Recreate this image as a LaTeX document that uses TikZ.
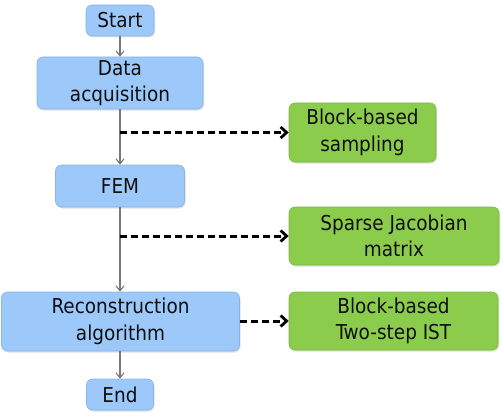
\documentclass[tikz,border=0pt]{standalone}
\usepackage{fontspec}
\setmainfont{DejaVu Sans Condensed}
\usetikzlibrary{arrows.meta,shadows}
\definecolor{bluefill}{RGB}{157,200,250}
\definecolor{blueedge}{RGB}{135,180,235}
\definecolor{greenfill}{RGB}{140,204,76}
\definecolor{greenedge}{RGB}{125,185,65}
\definecolor{txt}{RGB}{15,15,15}
\definecolor{flow}{RGB}{120,120,120}
\tikzset{
  boxbase/.style={line width=0.6pt, rounded corners=6pt, inner sep=0pt, align=center,
    font=\fontsize{20.5}{26.5}\selectfont, text=txt,
    drop shadow={shadow xshift=1pt, shadow yshift=-1.5pt, opacity=0.25}},
  bluebox/.style={boxbase, draw=blueedge, fill=bluefill},
  greenbox/.style={boxbase, draw=greenedge, fill=greenfill},
  flowline/.style={draw=flow, line width=1.1pt, -{Straight Barb[length=5pt,width=8pt]}},
  dashline/.style={draw=black, line width=3pt, dash pattern=on 7pt off 4pt, -{Straight Barb[length=6pt,width=11pt,line width=2.8pt]}}
}
\begin{document}
\begin{tikzpicture}[x=1pt,y=-1pt]
\useasboundingbox (0,0) rectangle (501,412);
\node[bluebox, minimum width=68pt, minimum height=31pt] (start) at (120,20.5) {Start};
\node[bluebox, minimum width=166pt, minimum height=52pt] (data) at (120,83) {Data\\acquisition};
\node[bluebox, minimum width=129pt, minimum height=42pt] (fem) at (120,186) {FEM};
\node[bluebox, minimum width=238pt, minimum height=59pt] (recon) at (120.5,321.5) {Reconstruction\\algorithm};
\node[bluebox, minimum width=67pt, minimum height=31pt] (end) at (120,394.5) {End};
\node[greenbox, minimum width=147pt, minimum height=59pt] (g1) at (362.5,132.5) {Block-based\\sampling};
\node[greenbox, minimum width=210pt, minimum height=58pt] (g2) at (394,236) {Sparse Jacobian\\matrix};
\node[greenbox, minimum width=209pt, minimum height=58pt] (g3) at (393.5,321) {Block-based\\Two-step IST};
\coordinate (c1) at (120,132.5);
\coordinate (c2) at (120,236);
\draw[flowline] (start) -- (data);
\draw[flowline] (data) -- (fem);
\draw[flowline] (fem) -- (fem |- recon.north);
\draw[flowline] (end |- recon.south) -- (end);
\draw[dashline] (c1) -- (g1.west);
\draw[dashline] (c2) -- (g2.west);
\draw[dashline] (recon.east |- g3.west) -- (g3.west);
\end{tikzpicture}
\end{document}
